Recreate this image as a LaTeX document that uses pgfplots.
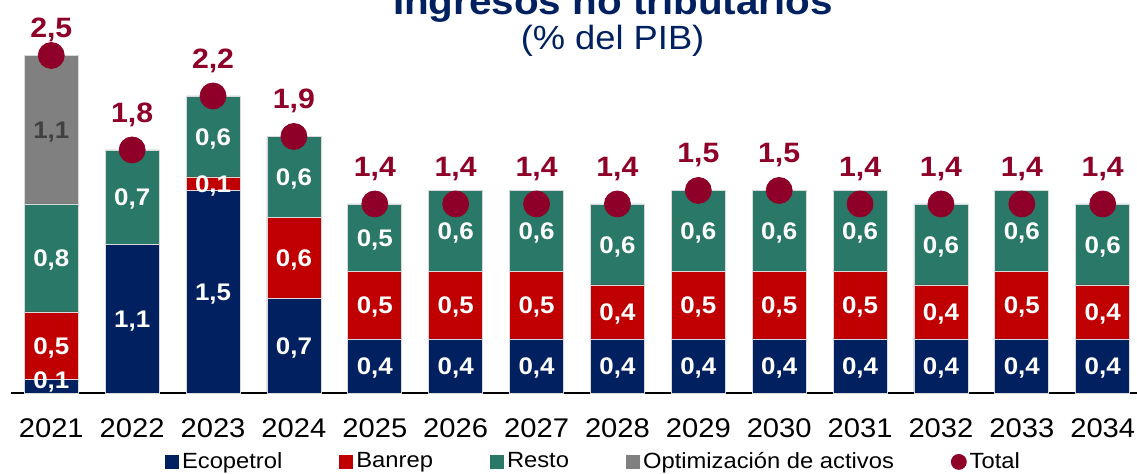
\documentclass[border=0pt]{standalone}
\usepackage{fontspec}
\setmainfont{Liberation Sans}[FakeStretch=1.08]
\usepackage{pgfplots}
\pgfplotsset{compat=1.18}
\definecolor{eco}{HTML}{002060}
\definecolor{ban}{HTML}{C00000}
\definecolor{res}{HTML}{2A7868}
\definecolor{opt}{HTML}{808080}
\definecolor{tot}{HTML}{8E0028}
\pgfplotsset{common/.style={width=566.2pt, height=189pt, scale only axis,
  xmin=-0.5, xmax=13.5, ymin=0, ymax=2.8, clip=false}}
\begin{document}
\begin{tikzpicture}
\begin{axis}[common,
  ybar stacked, bar width=27pt,
  hide y axis,
  axis line style={draw=none},
  xtick={0,...,13},
  xticklabels={2021,2022,2023,2024,2025,2026,2027,2028,2029,2030,2031,2032,2033,2034},
  major tick length=0pt, xtick style={draw=none},
  xticklabel style={font=\fontsize{13.5}{15}\selectfont, anchor=base, yshift=-22.3pt},
  ytick=\empty,
  every axis plot/.append style={draw=gray!30, line width=0.4pt},
  legend columns=5,
  legend style={draw=none, fill=none, at={(0.515,-0.1825)}, anchor=center,
    font=\fontsize{11}{13}\selectfont,
    /tikz/every even column/.append style={column sep=27pt},
    nodes={inner xsep=1.5pt, inner ysep=0pt}},
  legend image code/.code={\fill[#1,draw=none] (0pt,-3.5pt) rectangle (7pt,3.5pt);},
]
\addplot[fill=eco] coordinates {(0,0.1)(1,1.1)(2,1.5)(3,0.7)(4,0.4)(5,0.4)(6,0.4)(7,0.4)(8,0.4)(9,0.4)(10,0.4)(11,0.4)(12,0.4)(13,0.4)};
\addlegendentry{Ecopetrol}
\addplot[fill=ban] coordinates {(0,0.5)(1,0)(2,0.1)(3,0.6)(4,0.5)(5,0.5)(6,0.5)(7,0.4)(8,0.5)(9,0.5)(10,0.5)(11,0.4)(12,0.5)(13,0.4)};
\addlegendentry{Banrep}
\addplot[fill=res] coordinates {(0,0.8)(1,0.7)(2,0.6)(3,0.6)(4,0.5)(5,0.6)(6,0.6)(7,0.6)(8,0.6)(9,0.6)(10,0.6)(11,0.6)(12,0.6)(13,0.6)};
\addlegendentry{Resto}
\addplot[fill=opt] coordinates {(0,1.1)(1,0)(2,0)(3,0)(4,0)(5,0)(6,0)(7,0)(8,0)(9,0)(10,0)(11,0)(12,0)(13,0)};
\addlegendentry{Optimización de activos}
\addlegendimage{legend image code/.code={\fill[tot] (3.75pt,0pt) circle (3.75pt);}}
\addlegendentry{Total}
\draw[black, line width=1pt] (axis cs:-0.5,0) -- (axis cs:13.5,0);
\coordinate (bbsw) at (axis cs:-0.634,-0.6);
\coordinate (bbne) at (axis cs:13.424,2.911);
\node[anchor=base, font=\bfseries\fontsize{18.7}{20}\selectfont, text=eco] at (axis cs:6.945,2.8) {Ingresos no tributarios};
\node[anchor=base, font=\fontsize{16.8}{18}\selectfont, text=eco] at (axis cs:6.94,2.541) {(\% del PIB)};
\end{axis}
\begin{axis}[common, hide axis]
\addplot[only marks, mark=*, mark size=6.5pt, color=tot] coordinates {(0,2.5)(1,1.8)(2,2.2)(3,1.9)(4,1.4)(5,1.4)(6,1.4)(7,1.4)(8,1.5)(9,1.5)(10,1.4)(11,1.4)(12,1.4)(13,1.4)};
\addplot[only marks, mark=none, nodes near coords, point meta=explicit symbolic,
  nodes near coords style={anchor=base, yshift=-5pt, text=tot, font=\bfseries\fontsize{14}{15}\selectfont}]
  table[meta=lab, row sep=\\]{
  x y lab\\
  0 2.707 2,5\\ 1 2.081 1,8\\ 2 2.481 2,2\\ 3 2.181 1,9\\ 4 1.681 1,4\\ 5 1.681 1,4\\ 6 1.681 1,4\\
  7 1.681 1,4\\ 8 1.781 1,5\\ 9 1.781 1,5\\ 10 1.681 1,4\\ 11 1.681 1,4\\ 12 1.681 1,4\\ 13 1.681 1,4\\
  };
\addplot[only marks, mark=none, nodes near coords, point meta=explicit symbolic,
  nodes near coords style={anchor=base, yshift=-4.3pt, text=white, font=\bfseries\fontsize{12}{13}\selectfont}]
  table[meta=lab, row sep=\\]{
  x y lab\\
  0 0.1 0,1\\ 0 0.35 0,5\\ 0 1.0 0,8\\
  1 0.55 1,1\\ 1 1.45 0,7\\
  2 0.75 1,5\\ 2 1.55 0,1\\ 2 1.9 0,6\\
  3 0.35 0,7\\ 3 1.0 0,6\\ 3 1.6 0,6\\
  4 0.2 0,4\\ 4 0.65 0,5\\ 4 1.15 0,5\\
  5 0.2 0,4\\ 5 0.65 0,5\\ 5 1.2 0,6\\
  6 0.2 0,4\\ 6 0.65 0,5\\ 6 1.2 0,6\\
  7 0.2 0,4\\ 7 0.6 0,4\\ 7 1.1 0,6\\
  8 0.2 0,4\\ 8 0.65 0,5\\ 8 1.2 0,6\\
  9 0.2 0,4\\ 9 0.65 0,5\\ 9 1.2 0,6\\
  10 0.2 0,4\\ 10 0.65 0,5\\ 10 1.2 0,6\\
  11 0.2 0,4\\ 11 0.6 0,4\\ 11 1.1 0,6\\
  12 0.2 0,4\\ 12 0.65 0,5\\ 12 1.2 0,6\\
  13 0.2 0,4\\ 13 0.6 0,4\\ 13 1.1 0,6\\
  };
\addplot[only marks, mark=none, nodes near coords, point meta=explicit symbolic,
  nodes near coords style={anchor=base, yshift=-4.3pt, text=black!75, font=\bfseries\fontsize{12}{13}\selectfont}]
  table[meta=lab, row sep=\\]{
  x y lab\\
  0 1.95 1,1\\
  };
\end{axis}
\pgfresetboundingbox
\path[use as bounding box] (bbsw) rectangle (bbne);
\end{tikzpicture}
\end{document}
